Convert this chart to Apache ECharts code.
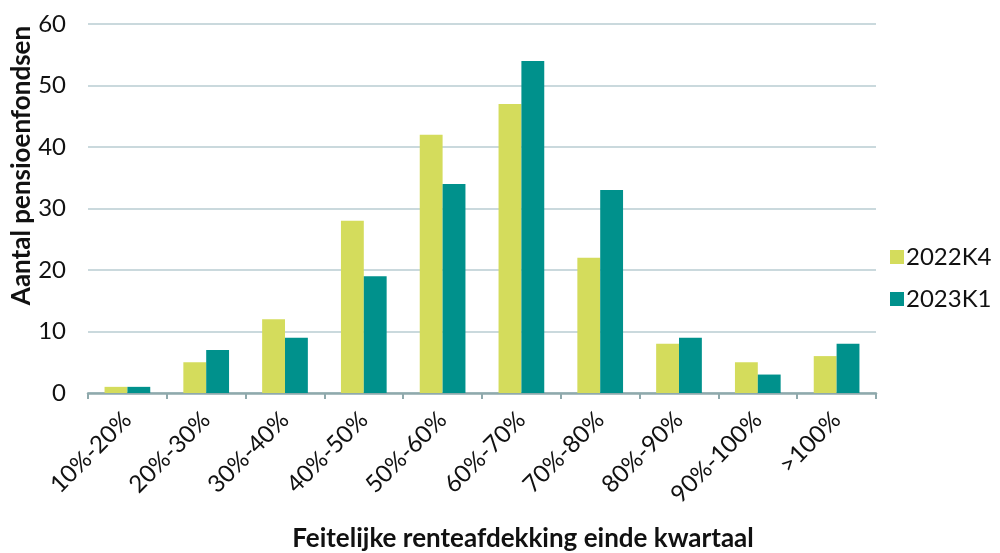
<!DOCTYPE html>
<html><head><meta charset="utf-8">
<script src="https://cdn.jsdelivr.net/npm/echarts@6/dist/echarts.min.js"></script>
<style>html,body{margin:0;padding:0;background:#fff}#c{width:1000px;height:553px}</style>
</head><body><div id="c"></div>
<script>
const categories = ['10%-20%','20%-30%','30%-40%','40%-50%','50%-60%','60%-70%','70%-80%','80%-90%','90%-100%','>100%'];
const s2022K4 = [1,5,12,28,42,47,22,8,5,6];
const s2023K1 = [1,7,9,19,34,54,33,9,3,8];
const seriesNames = ['2022K4','2023K1'];
const yTicks = {min:0, max:60, interval:10};

const chart = echarts.init(document.getElementById('c'), null, {renderer:'canvas'});
const font = 'Lato, "Noto Sans", sans-serif';
chart.setOption({
  animation:false,
  textStyle:{fontFamily:font},
  color:['#D4DC5C','#00918C'],
  grid:{left:88, right:124, top:24, bottom:160, containLabel:false, outerBoundsMode:'none'},
  legend:{
    orient:'vertical', left:885, top:240, itemGap:18,
    itemWidth:14, itemHeight:14, icon:'rect',
    textStyle:{fontSize:24, color:'#111', fontFamily:font, padding:[0,0,0,-3]},
    data:seriesNames
  },
  xAxis:{
    type:'category', data:categories,
    axisLine:{lineStyle:{color:'#8FA9AC', width:2.5}},
    axisTick:{show:true, length:6, lineStyle:{color:'#8FA9AC', width:2}},
    axisLabel:{rotate:45, fontSize:24, color:'#111', margin:23, fontFamily:font},
    name:'Feitelijke renteafdekking einde kwartaal', nameLocation:'middle', nameGap:133,
    nameTextStyle:{fontSize:26, fontWeight:'bold', color:'#111', fontFamily:font, padding:[0,0,0,82]}
  },
  yAxis:{
    type:'value', min:yTicks.min, max:yTicks.max, interval:yTicks.interval,
    axisLine:{show:false}, axisTick:{show:false},
    splitLine:{lineStyle:{color:'#B8CDD2', width:1.5}},
    axisLabel:{fontSize:24, color:'#111', margin:22, fontFamily:font},
    name:'Aantal pensioenfondsen', nameLocation:'middle', nameGap:53, nameMoveOverlap:false,
    nameTextStyle:{fontSize:26, fontWeight:'bold', color:'#111', fontFamily:font, padding:[0,0,0,86]}
  },
  series:[
    {name:seriesNames[0], type:'bar', data:s2022K4, barGap:'0%', barCategoryGap:'42%'},
    {name:seriesNames[1], type:'bar', data:s2023K1, barGap:'0%', barCategoryGap:'42%'}
  ]
});
</script></body></html>
